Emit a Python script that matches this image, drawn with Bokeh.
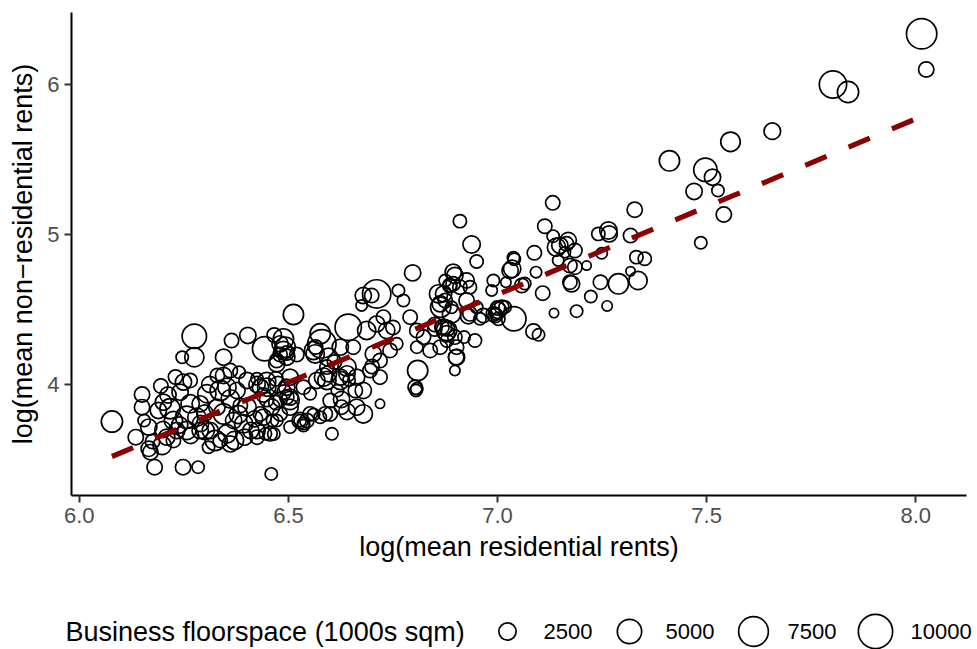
import numpy as np
from bokeh.plotting import figure
from bokeh.layouts import column
from bokeh.models import Range1d, FixedTicker, NumeralTickFormatter, ColumnDataSource
from bokeh.core.properties import value
from bokeh.embed import file_html
from bokeh.resources import INLINE

# ---------------- data ----------------
pts = [
    (8.014, 6.338, 7800), (8.025, 6.100, 1950), (7.802, 6.000, 6300), (7.838, 5.950, 3800),
    (7.657, 5.689, 2300), (7.557, 5.618, 3200), (7.411, 5.491, 3450), (7.497, 5.431, 4600),
    (7.514, 5.382, 2200), (7.470, 5.287, 2200), (7.527, 5.293, 1250), (7.541, 5.133, 1950),
    (7.486, 4.945, 1250), (7.328, 5.165, 1950), (7.132, 5.211, 1700), (7.113, 5.055, 1700),
    (7.133, 4.989, 1250), (7.241, 5.004, 1450), (7.265, 5.027, 2500), (7.267, 5.004, 2200),
    (7.318, 4.993, 1700), (7.169, 4.960, 2200), (7.149, 4.927, 2200), (7.088, 4.878, 1700),
    (7.038, 4.845, 1250), (7.040, 4.835, 1250), (7.035, 4.771, 2500), (7.092, 4.749, 1050),
    (7.141, 4.915, 2800), (7.165, 4.938, 1700), (7.185, 4.893, 1700), (7.161, 4.882, 1050),
    (7.145, 4.827, 1050), (7.173, 4.793, 1700), (7.185, 4.782, 1700), (7.213, 4.793, 700),
    (7.173, 4.682, 1700), (7.177, 4.671, 2200), (7.249, 4.875, 1050), (7.318, 4.755, 700),
    (7.332, 4.849, 1450), (7.352, 4.838, 1450), (7.336, 4.693, 2800), (7.289, 4.671, 3450),
    (7.246, 4.682, 1700), (7.223, 4.587, 1250), (7.262, 4.524, 870), (7.189, 4.489, 1250),
    (7.135, 4.476, 700), (7.108, 4.609, 1700), (7.058, 4.660, 1700), (7.065, 4.673, 1250),
    (7.020, 4.682, 870), (7.039, 4.438, 5000), (7.018, 4.516, 1250), (6.996, 4.471, 1250),
    (7.086, 4.353, 1950), (7.098, 4.331, 1250),
    (6.910, 5.089, 1450), (6.938, 4.933, 2500), (6.950, 4.820, 1450), (6.990, 4.693, 1250),
    (6.986, 4.627, 1050), (6.994, 4.460, 1700), (7.010, 4.515, 1700), (7.002, 4.438, 1450),
    (6.966, 4.460, 1700), (6.950, 4.515, 1250), (6.898, 4.727, 2200), (6.926, 4.693, 1950),
    (6.910, 4.649, 1700), (6.886, 4.660, 1450), (6.934, 4.649, 1450), (6.875, 4.560, 1700),
    (6.926, 4.560, 1950), (6.890, 4.515, 1250), (6.934, 4.471, 1700), (6.930, 4.455, 1950),
    (6.958, 4.438, 1250), (6.867, 4.382, 1700), (6.878, 4.338, 2200), (6.898, 4.316, 1700),
    (6.946, 4.293, 1450), (6.902, 4.249, 1700), (6.901, 4.182, 1950), (6.898, 4.093, 870),
    (6.863, 4.249, 1700), (6.879, 4.293, 1450), (6.920, 4.316, 1250), (6.894, 4.749, 2200),
    (6.894, 4.671, 1700), (6.875, 4.693, 1250), (6.890, 4.471, 2800), (6.859, 4.604, 2800),
    (6.864, 4.515, 3450), (6.878, 4.360, 3450), (7.002, 4.493, 2200), (6.990, 4.470, 1700),
    (7.000, 4.510, 1700), (7.030, 4.760, 2200), (6.797, 4.744, 2200), (6.809, 4.093, 3450),
    (6.803, 3.982, 1700), (6.807, 3.971, 1250), (6.805, 3.960, 1250), (6.763, 4.627, 1250),
    (6.775, 4.560, 1250), (6.679, 4.593, 2200), (6.699, 4.593, 1700), (6.711, 4.604, 6800),
    (6.675, 4.527, 1050), (6.791, 4.449, 1700), (6.807, 4.360, 1700), (6.807, 4.249, 1250),
    (6.823, 4.316, 1700), (6.839, 4.227, 1700), (6.863, 4.538, 2200), (6.871, 4.604, 2200),
    (6.886, 4.660, 1700), (6.871, 4.382, 2200), (6.880, 4.370, 1700), (6.850, 4.370, 1700),
    (6.902, 4.182, 2200), (6.850, 4.400, 1700),
    (6.512, 4.467, 3450), (6.643, 4.382, 5850), (6.580, 4.271, 6800), (6.576, 4.338, 3450),
    (6.560, 4.227, 2800), (6.565, 4.250, 1700), (6.596, 4.182, 2800), (6.624, 4.249, 2200),
    (6.655, 4.249, 1700), (6.640, 4.116, 2800), (6.624, 4.049, 2200), (6.645, 4.030, 1250),
    (6.663, 4.049, 2200), (6.695, 4.093, 1700), (6.719, 4.160, 1700), (6.703, 4.204, 2200),
    (6.687, 4.360, 2800), (6.711, 4.404, 2200), (6.727, 4.449, 1700), (6.735, 4.360, 2200),
    (6.750, 4.380, 1700), (6.759, 4.271, 1250), (6.743, 4.227, 1700), (6.700, 4.120, 1700),
    (6.679, 3.960, 2200), (6.719, 4.049, 1700), (6.719, 3.871, 700), (6.679, 3.804, 2800),
    (6.663, 3.849, 2200), (6.627, 3.849, 1700), (6.600, 3.804, 1700), (6.576, 3.782, 1250),
    (6.604, 3.671, 1250), (6.528, 3.760, 1250), (6.544, 3.760, 1700), (6.536, 3.740, 1250),
    (6.560, 3.800, 1250), (6.504, 3.716, 1250), (6.504, 3.849, 2200), (6.496, 3.916, 1700),
    (6.480, 3.804, 1700), (6.462, 3.760, 1250), (6.465, 3.670, 1250), (6.504, 4.049, 2200),
    (6.536, 3.982, 1700), (6.552, 3.938, 1250), (6.568, 4.027, 2200), (6.592, 4.116, 1700),
    (6.610, 4.150, 1700), (6.480, 4.271, 2200), (6.488, 4.227, 2800), (6.472, 4.160, 1700),
    (6.520, 4.200, 1700), (6.466, 4.330, 1700), (6.488, 4.304, 3450), (6.492, 4.249, 3450),
    (6.496, 4.210, 1700), (6.472, 4.138, 2200), (6.496, 4.182, 2200), (6.504, 3.893, 2800),
    (6.490, 3.950, 1700), (6.496, 3.982, 2200), (6.504, 3.916, 2200), (6.528, 3.760, 2200),
    (6.536, 3.727, 1250), (6.552, 3.804, 1700), (6.588, 3.804, 1700), (6.600, 3.893, 1700),
    (6.627, 3.900, 2200), (6.640, 3.820, 2200), (6.617, 3.960, 1250), (6.592, 4.027, 2800),
    (6.624, 4.027, 2800), (6.584, 4.049, 2800), (6.564, 4.204, 2800), (6.596, 4.071, 2200),
    (6.640, 4.071, 2200), (6.660, 3.960, 1700),
    (6.078, 3.753, 3800), (6.135, 3.649, 1950), (6.150, 3.933, 1950), (6.150, 3.849, 1950),
    (6.170, 3.549, 1950), (6.166, 3.571, 1950), (6.198, 3.593, 2800), (6.180, 3.449, 1950),
    (6.248, 3.449, 1950), (6.284, 3.449, 1250), (6.459, 3.404, 1250), (6.309, 3.582, 1250),
    (6.275, 4.322, 5000), (6.246, 4.182, 1250), (6.275, 4.182, 3100), (6.364, 4.293, 1700),
    (6.403, 4.327, 2200), (6.345, 4.182, 2200), (6.443, 4.238, 5000), (6.201, 3.882, 2200),
    (6.189, 3.827, 2200), (6.217, 3.838, 3450), (6.225, 3.760, 2800), (6.249, 4.016, 2200),
    (6.265, 4.027, 1700), (6.241, 3.949, 2200), (6.265, 3.871, 2800), (6.257, 3.782, 4200),
    (6.281, 3.782, 2800), (6.257, 3.693, 2800), (6.289, 3.693, 2200), (6.313, 3.693, 2200),
    (6.305, 3.938, 2800), (6.337, 3.960, 3450), (6.345, 4.060, 2200), (6.361, 4.093, 1700),
    (6.353, 3.982, 2800), (6.361, 3.904, 2800), (6.377, 3.960, 2200), (6.329, 3.849, 2200),
    (6.345, 3.804, 3450), (6.369, 3.760, 2200), (6.353, 3.671, 2800), (6.361, 3.604, 2200),
    (6.337, 3.627, 1700), (6.393, 3.738, 2800), (6.401, 3.849, 2800), (6.385, 3.860, 1700),
    (6.401, 4.027, 2200), (6.425, 4.038, 1250), (6.433, 3.982, 2200), (6.448, 3.982, 2800),
    (6.448, 3.900, 1700), (6.425, 3.693, 2200), (6.456, 3.671, 1700), (6.472, 3.760, 1250),
    (6.440, 3.782, 2200), (6.480, 4.200, 1700), (6.470, 3.880, 1700), (6.166, 3.716, 2200),
    (6.209, 3.649, 2200), (6.225, 3.627, 1700), (6.233, 3.693, 2200), (6.289, 3.871, 2200),
    (6.155, 3.760, 1250), (6.175, 3.620, 1700), (6.395, 3.649, 2200), (6.371, 3.627, 2800),
    (6.325, 3.627, 3450), (6.301, 3.693, 2800), (6.266, 3.660, 2200), (6.290, 3.740, 2200),
    (6.419, 3.771, 2200), (6.433, 3.804, 1700), (6.425, 3.649, 1700), (6.445, 3.671, 1250),
    (6.410, 3.693, 2200), (6.425, 4.000, 2200), (6.448, 4.020, 2800), (6.470, 4.038, 1700),
    (6.475, 4.000, 2200), (6.440, 3.930, 1700), (6.312, 4.000, 2200), (6.330, 4.060, 1700),
    (6.212, 3.930, 2200), (6.195, 3.990, 1700), (6.230, 4.050, 1700), (6.382, 4.082, 1250),
    (6.380, 3.800, 2800), (6.300, 3.810, 2200), (6.200, 3.700, 2200), (6.240, 3.730, 2200),
    (6.480, 3.900, 1700), (6.460, 3.850, 2200),
]
log_res_rent = [p[0] for p in pts]
log_nonres_rent = [p[1] for p in pts]
floorspace = [p[2] for p in pts]

fit_x = [6.078, 8.025]
fit_y = [3.52, 5.80]

x_ticks = [6.0, 6.5, 7.0, 7.5, 8.0]
y_ticks = [4, 5, 6]
legend_values = [2500, 5000, 7500, 10000]
legend_labels = ["2500", "5000", "7500", "10000"]

FONT = "Liberation Sans"
STROKE = 1.7

W, H_MAIN, H_LEG = 977, 580, 69
BL, BR, BT = 71, 11, 12


def size_px(v):
    return 2.0 + 0.34 * np.sqrt(np.asarray(v, dtype=float)) - STROKE


# ---------------- main plot ----------------
p = figure(width=W, height=H_MAIN, output_backend="svg", toolbar_location=None,
           x_range=Range1d(5.9813, 8.1213), y_range=Range1d(3.26, 6.48),
           min_border_left=BL, min_border_right=BR, min_border_top=BT,
           min_border_bottom=H_MAIN - 495)
p.frame_align = False
p.title.visible = False
p.outline_line_color = None
p.xgrid.visible = False
p.ygrid.visible = False
p.background_fill_color = "white"
p.border_fill_color = "white"

src = ColumnDataSource(dict(x=log_res_rent, y=log_nonres_rent, s=size_px(floorspace)))
p.scatter("x", "y", size="s", source=src, marker="circle", fill_color=None,
          line_color="black", line_width=STROKE)
p.line(fit_x, fit_y, line_color="#8B0000", line_width=5.2, line_dash="23 24")

for ax in (p.xaxis[0], p.yaxis[0]):
    ax.axis_line_color = "black"
    ax.axis_line_width = 2
    ax.major_tick_line_color = "#333333"
    ax.major_tick_line_width = 2
    ax.major_tick_out = 7
    ax.major_tick_in = 0
    ax.minor_tick_line_color = None
    ax.major_label_text_font = FONT
    ax.major_label_text_font_size = "22px"
    ax.major_label_text_color = "#4D4D4D"
    ax.major_label_standoff = 5
    ax.axis_label_text_font = FONT
    ax.axis_label_text_font_size = "27px"
    ax.axis_label_text_font_style = "normal"
    ax.axis_label_text_color = "black"
    ax.axis_label_standoff = 6

p.xaxis.ticker = FixedTicker(ticks=x_ticks)
p.yaxis.ticker = FixedTicker(ticks=y_ticks)
p.xaxis.formatter = NumeralTickFormatter(format="0.0")
p.yaxis.formatter = NumeralTickFormatter(format="0")
p.xaxis.axis_label = "log(mean residential rents)"
p.yaxis.axis_label = "log(mean non\u2212residential rents)"

# ---------------- legend strip ----------------
lg = figure(width=W, height=H_LEG, output_backend="svg", toolbar_location=None,
            x_range=Range1d(0, W), y_range=Range1d(0, H_LEG),
            min_border=0, x_axis_type=None, y_axis_type=None)
lg.frame_align = False
lg.title.visible = False
lg.outline_line_color = None
lg.xgrid.visible = False
lg.ygrid.visible = False

ly = 18
key_x = [507, 629, 753, 875]
lab_x = [543, 665, 787, 910]
lg.text(x=[65], y=[ly], text=["Business floorspace (1000s sqm)"],
        text_font=value(FONT), text_font_size="27px", text_color="black",
        text_align="left", text_baseline="middle")
lg.scatter(x=key_x, y=[ly] * 4, size=size_px(legend_values), marker="circle",
           fill_color=None, line_color="black", line_width=STROKE)
lg.text(x=lab_x, y=[ly] * 4, text=legend_labels,
        text_font=value(FONT), text_font_size="22px", text_color="black",
        text_align="left", text_baseline="middle")

layout = column(p, lg, spacing=0)
open("out.html", "w").write(file_html(layout, INLINE))
